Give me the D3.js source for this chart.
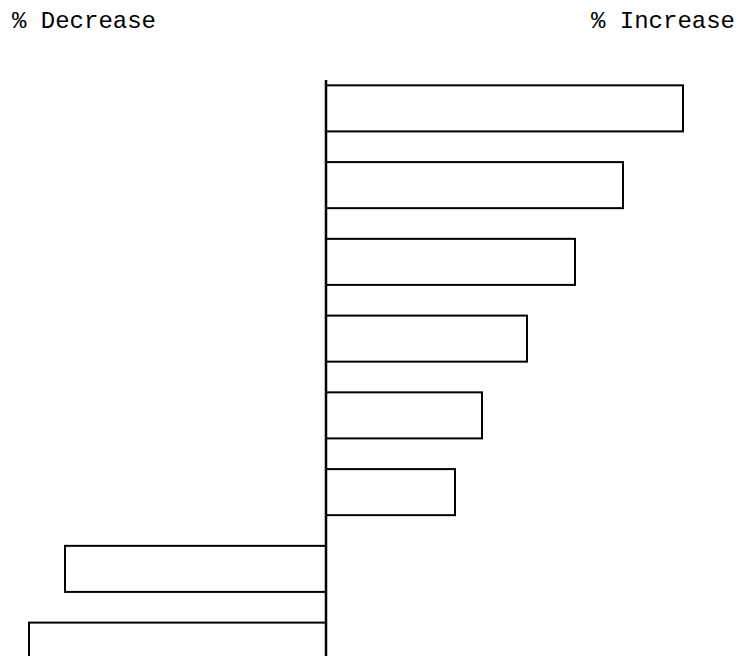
<!DOCTYPE html>
<html>
<head>
<meta charset="utf-8">
<script src="https://cdn.jsdelivr.net/npm/d3@7"></script>
<style>
  html, body { margin: 0; padding: 0; background: #fff; }
  svg { display: block; }
</style>
</head>
<body>
<script>
// Data (percent change; no category labels are shown)
const categories = ["A", "B", "C", "D", "E", "F", "G", "H"];
const values = [119, 99, 83, 67, 52, 43, -87, -99];
const leftLabel = "% Decrease";
const rightLabel = "% Increase";

const W = 740, H = 656;
const svg = d3.select("body").append("svg").attr("width", W).attr("height", H);

const x = d3.scaleLinear().domain([-100, 120]).range([26, 686]);
const y = d3.scaleBand().domain(categories).range([70, 684]).paddingInner(0.4).paddingOuter(0.2);

// bars
svg.append("g").selectAll("rect")
  .data(categories.map((c, i) => ({ c, v: values[i] })))
  .join("rect")
  .attr("x", d => Math.min(x(0), x(d.v)))
  .attr("y", d => y(d.c))
  .attr("width", d => Math.abs(x(d.v) - x(0)))
  .attr("height", y.bandwidth())
  .attr("fill", "#fff")
  .attr("stroke", "#000")
  .attr("stroke-width", 2);

// zero axis line
svg.append("line")
  .attr("x1", x(0)).attr("x2", x(0))
  .attr("y1", 80).attr("y2", H)
  .attr("stroke", "#000").attr("stroke-width", 2.5);

// labels
const font = "'Liberation Mono', 'DejaVu Sans Mono', monospace";
svg.append("text").attr("x", 12).attr("y", 28)
  .attr("font-family", font).attr("font-size", 24).attr("fill", "#000")
  .text(leftLabel);
svg.append("text").attr("x", 735).attr("y", 28).attr("text-anchor", "end")
  .attr("font-family", font).attr("font-size", 24).attr("fill", "#000")
  .text(rightLabel);
</script>
</body>
</html>
